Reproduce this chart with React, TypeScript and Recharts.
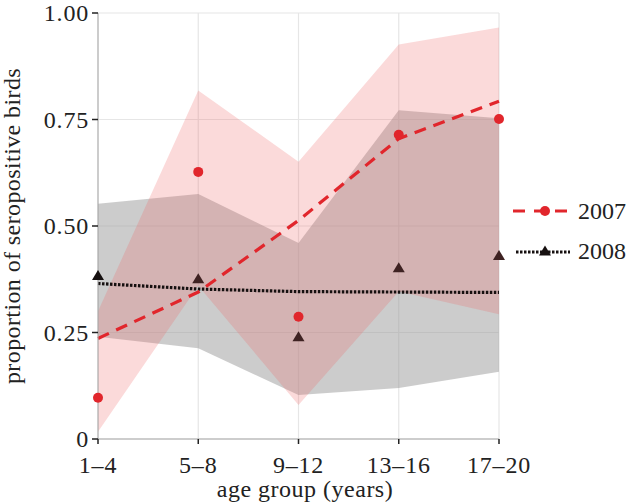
import { ComposedChart, Area, Line, XAxis, YAxis, CartesianGrid } from 'recharts';

const categories = ['1–4', '5–8', '9–12', '13–16', '17–20'];
const obs2007 = [0.097, 0.627, 0.287, 0.714, 0.751];
const obs2008 = [0.384, 0.376, 0.24, 0.402, 0.431];
const fit2007 = [0.236, 0.345, 0.513, 0.705, 0.793];
const fit2008 = [0.365, 0.352, 0.346, 0.345, 0.344];
const band2007Low = [0.017, 0.36, 0.08, 0.346, 0.293];
const band2007High = [0.3, 0.818, 0.651, 0.926, 0.966];
const band2008Low = [0.24, 0.213, 0.103, 0.12, 0.158];
const band2008High = [0.552, 0.575, 0.46, 0.772, 0.753];
const yTicks = [0, 0.25, 0.5, 0.75, 1];

const data = categories.map((c, i) => ({
  x: i,
  label: c,
  obs2007: obs2007[i],
  obs2008: obs2008[i],
  fit2007: fit2007[i],
  fit2008: fit2008[i],
  band2007: [band2007Low[i], band2007High[i]],
  band2008: [band2008Low[i], band2008High[i]],
}));

const RED = '#e1262c';
const DARK = '#161010';
const FONT = '"Liberation Serif", "DejaVu Serif", serif';

// triangles that sit under the 2007 band look tinted in the original
// eslint-disable-next-line @typescript-eslint/no-explicit-any
function Triangle(props: any) {
  const { cx, cy, index } = props;
  if (cx == null || cy == null) return <g key={index} />;
  const v = obs2008[index];
  const under = v > band2007Low[index] && v < band2007High[index];
  return (
    <path
      key={index}
      d={`M${cx},${cy - 5.5} L${cx + 6},${cy + 4.5} L${cx - 6},${cy + 4.5} Z`}
      fill={under ? '#3e2222' : DARK}
    />
  );
}

// eslint-disable-next-line @typescript-eslint/no-explicit-any
function XTick(props: any) {
  const { x, y, payload } = props;
  return (
    <text x={x} y={y + 23} textAnchor="middle" fontSize={24} letterSpacing={0.8} fontFamily={FONT} fill="#222">
      {categories[payload.value]}
    </text>
  );
}

// eslint-disable-next-line @typescript-eslint/no-explicit-any
function YTick(props: any) {
  const { x, y, payload } = props;
  const v = payload.value as number;
  return (
    <text x={x} y={y + 8} textAnchor="end" fontSize={24} letterSpacing={0.8} fontFamily={FONT} fill="#222">
      {v === 0 ? '0' : v.toFixed(2)}
    </text>
  );
}

export default function App() {
  return (
    <div style={{ position: 'fixed', left: 0, top: 0, width: 628, height: 504, background: '#fff', fontFamily: FONT }}>
      <ComposedChart
        width={628}
        height={504}
        data={data}
        margin={{ top: 13, right: 129, left: 38, bottom: 35 }}
      >
        <CartesianGrid stroke="#e6e6e6" strokeWidth={1.2} />
        <XAxis
          dataKey="x"
          type="number"
          domain={[0, 4]}
          ticks={[0, 1, 2, 3, 4]}
          tick={XTick}
          stroke="#a8a8a8"
          tickLine={{ stroke: '#222', strokeWidth: 1.5 }}
          tickSize={5}
          tickMargin={6}
          height={30}
          interval={0}
        />
        <YAxis
          type="number"
          domain={[0, 1]}
          ticks={yTicks}
          tick={YTick}
          stroke="#a8a8a8"
          tickLine={{ stroke: '#222', strokeWidth: 1.5 }}
          tickSize={6}
          tickMargin={3}
          width={60}
        />
        <Area
          type="linear"
          dataKey="band2008"
          fill="#999999"
          fillOpacity={0.5}
          stroke="none"
          isAnimationActive={false}
        />
        <Line
          type="linear"
          dataKey="fit2008"
          stroke={DARK}
          strokeWidth={3.2}
          strokeDasharray="2.5 1.5"
          dot={false}
          isAnimationActive={false}
        />
        <Line
          dataKey="obs2008"
          stroke="none"
          dot={Triangle}
          activeDot={false}
          isAnimationActive={false}
        />
        <Area
          type="linear"
          dataKey="band2007"
          fill="#f06464"
          fillOpacity={0.24}
          stroke="none"
          isAnimationActive={false}
        />
        <Line
          type="linear"
          dataKey="fit2007"
          stroke={RED}
          strokeWidth={3.2}
          strokeDasharray="12 8"
          dot={false}
          isAnimationActive={false}
        />
        <Line
          dataKey="obs2007"
          stroke="none"
          dot={{ r: 5, fill: RED, stroke: 'none' }}
          activeDot={false}
          isAnimationActive={false}
        />
        <text x={305} y={497} textAnchor="middle" fontSize={24} letterSpacing={0.5} fontFamily={FONT} fill="#222">
          age group (years)
        </text>
        <text
          x={20}
          y={226}
          transform="rotate(-90 20 226)"
          textAnchor="middle"
          fontSize={24}
          letterSpacing={0.4}
          fontFamily={FONT}
          fill="#222"
        >
          proportion of seropositive birds
        </text>
      </ComposedChart>
      <div style={{ position: 'absolute', left: 510, top: 194, fontFamily: FONT, fontSize: 24, color: '#222' }}>
        <div style={{ display: 'flex', alignItems: 'center', height: 34 }}>
          <svg width={64} height={20}>
            <line x1={3} y1={10} x2={60} y2={10} stroke={RED} strokeWidth={3.2} strokeDasharray="12 9" />
            <circle cx={35} cy={10} r={5} fill={RED} />
          </svg>
          <span style={{ marginLeft: 4 }}>2007</span>
        </div>
        <div style={{ display: 'flex', alignItems: 'center', height: 34, marginTop: 6 }}>
          <svg width={64} height={20}>
            <line x1={6} y1={11} x2={60} y2={11} stroke={DARK} strokeWidth={3.2} strokeDasharray="2.5 1.5" />
            <path d="M35,4.5 L41,14.5 L29,14.5 Z" fill={DARK} />
          </svg>
          <span style={{ marginLeft: 4 }}>2008</span>
        </div>
      </div>
    </div>
  );
}
